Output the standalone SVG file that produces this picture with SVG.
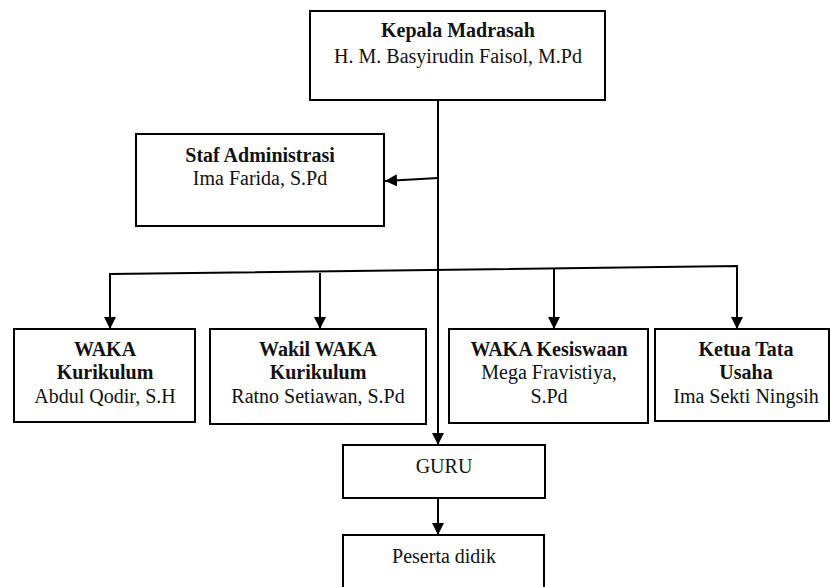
<svg xmlns="http://www.w3.org/2000/svg" width="831" height="587" viewBox="0 0 831 587">
<defs>
<marker id="ah" viewBox="0 0 10 10" refX="10" refY="5" markerWidth="12" markerHeight="12" markerUnits="userSpaceOnUse" orient="auto">
<path d="M0,0 L10,5 L0,10 z" fill="#000"/>
</marker>
<style>
.box{fill:#fff;stroke:#000;stroke-width:2}
.t{font-family:"Liberation Serif","Times New Roman",serif;font-size:20px;fill:#111;text-anchor:middle}
.b{font-weight:bold}
.c{fill:none;stroke:#000;stroke-width:2}
</style>
</defs>
<rect width="831" height="587" fill="#fff"/>
<g id="connectors">
<line class="c" x1="438" y1="100" x2="438" y2="445" marker-end="url(#ah)"/>
<line class="c" x1="438" y1="178" x2="385" y2="181" marker-end="url(#ah)"/>
<polyline class="c" points="110,329 110,274 737,266 737,329"/>
<line class="c" x1="110" y1="274" x2="110" y2="329" marker-end="url(#ah)"/>
<line class="c" x1="737" y1="266" x2="737" y2="329" marker-end="url(#ah)"/>
<line class="c" x1="320" y1="273" x2="320" y2="329" marker-end="url(#ah)"/>
<line class="c" x1="554" y1="269" x2="554" y2="329" marker-end="url(#ah)"/>
<line class="c" x1="438" y1="498" x2="438" y2="535" marker-end="url(#ah)"/>
</g>
<g id="kepala">
<rect class="box" x="310" y="11" width="295" height="89"/>
<text class="t b" x="458" y="37">Kepala Madrasah</text>
<text class="t" x="458" y="63">H. M. Basyirudin Faisol, M.Pd</text>
</g>
<g id="staf">
<rect class="box" x="136" y="134" width="248" height="92"/>
<text class="t b" x="260" y="162">Staf Administrasi</text>
<text class="t" x="260" y="185">Ima Farida, S.Pd</text>
</g>
<g id="waka-kurikulum">
<rect class="box" x="14" y="329" width="181" height="93"/>
<text class="t b" x="105" y="356">WAKA</text>
<text class="t b" x="105" y="379">Kurikulum</text>
<text class="t" x="105" y="403">Abdul Qodir, S.H</text>
</g>
<g id="wakil-waka">
<rect class="box" x="210" y="329" width="216" height="95"/>
<text class="t b" x="318" y="356">Wakil WAKA</text>
<text class="t b" x="318" y="379">Kurikulum</text>
<text class="t" x="318" y="403">Ratno Setiawan, S.Pd</text>
</g>
<g id="waka-kesiswaan">
<rect class="box" x="449" y="329" width="199" height="94"/>
<text class="t b" x="549" y="356">WAKA Kesiswaan</text>
<text class="t" x="549" y="379">Mega Fravistiya,</text>
<text class="t" x="549" y="403">S.Pd</text>
</g>
<g id="ketua-tu">
<rect class="box" x="655" y="329" width="174" height="92"/>
<text class="t b" x="746" y="356">Ketua Tata</text>
<text class="t b" x="746" y="379">Usaha</text>
<text class="t" x="746" y="403">Ima Sekti Ningsih</text>
</g>
<g id="guru">
<rect class="box" x="343" y="445" width="202" height="53"/>
<text class="t" x="444" y="473">GURU</text>
</g>
<g id="peserta">
<rect class="box" x="343" y="535" width="201" height="60"/>
<text class="t" x="444" y="563">Peserta didik</text>
</g>
</svg>
